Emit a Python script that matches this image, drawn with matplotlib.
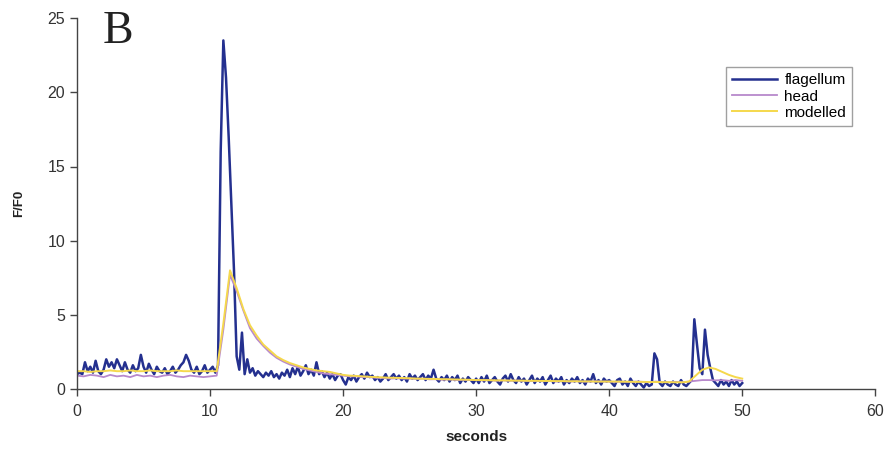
import numpy as np
import matplotlib.pyplot as plt

plt.rcParams['font.family'] = ['Liberation Sans', 'DejaVu Sans']

# flagellum trace, sampled every 0.2 s from 0 to 50 s
flag_t = np.arange(251) * 0.2
flagellum = [
    1.0, 1.1, 1.0, 1.8, 1.2, 1.5, 1.1, 1.9, 1.2, 1.0,
    1.3, 2.0, 1.5, 1.8, 1.4, 2.0, 1.6, 1.2, 1.8, 1.3,
    1.1, 1.6, 1.2, 1.4, 2.3, 1.5, 1.1, 1.7, 1.3, 1.0,
    1.5, 1.2, 1.1, 1.4, 1.0, 1.2, 1.5, 1.1, 1.3, 1.6,
    1.8, 2.3, 1.9, 1.3, 1.1, 1.5, 1.0, 1.2, 1.6, 1.1,
    1.3, 1.5, 1.1, 1.6, 16.0, 23.5, 21.0, 17.0, 12.5, 8.0,
    2.2, 1.3, 3.8, 1.0, 2.0, 1.1, 1.4, 0.9, 1.2, 1.0,
    0.8, 1.1, 0.9, 1.2, 0.8, 1.0, 0.7, 1.1, 0.9, 1.3,
    0.8, 1.4, 1.0, 1.5, 0.9, 1.2, 1.6, 1.0, 1.3, 0.9,
    1.8, 1.0, 1.2, 0.8, 1.1, 0.7, 1.0, 0.6, 0.9, 1.0,
    0.6, 0.3, 0.8, 0.6, 0.9, 0.5, 0.8, 1.0, 0.7, 1.1,
    0.8, 0.9, 0.6, 0.8, 0.5, 0.7, 1.0, 0.6, 0.8, 1.0,
    0.7, 0.9, 0.6, 0.8, 0.5, 1.0, 0.7, 0.9, 0.6, 0.8,
    1.0, 0.6, 0.9, 0.7, 1.3, 0.7, 0.5, 0.8, 0.6, 0.9,
    0.5, 0.8, 0.6, 0.9, 0.4, 0.7, 0.5, 0.8, 0.6, 0.4,
    0.7, 0.4, 0.8, 0.5, 0.9, 0.4, 0.6, 0.8, 0.5, 0.3,
    0.7, 0.9, 0.5, 1.0, 0.6, 0.4, 0.8, 0.5, 0.7, 0.3,
    0.6, 0.9, 0.4, 0.7, 0.5, 0.8, 0.3, 0.6, 0.9, 0.4,
    0.7, 0.5, 0.8, 0.3, 0.6, 0.4, 0.7, 0.5, 0.8, 0.4,
    0.6, 0.3, 0.7, 0.5, 1.0, 0.4, 0.6, 0.3, 0.7, 0.5,
    0.6, 0.4, 0.2, 0.6, 0.7, 0.3, 0.5, 0.2, 0.7, 0.4,
    0.2, 0.5, 0.3, 0.1, 0.4, 0.2, 0.3, 2.4, 2.0, 0.4,
    0.2, 0.5, 0.3, 0.2, 0.5, 0.3, 0.2, 0.6, 0.3, 0.2,
    0.4, 0.6, 4.7, 3.0, 1.4, 1.0, 4.0, 2.3, 1.4, 0.6,
    0.4, 0.2, 0.6, 0.3, 0.5, 0.2, 0.6, 0.3, 0.5, 0.2,
    0.4,
]

# head and modelled traces, every 0.5 s
slow_t = np.arange(101) * 0.5
head = [
    0.9, 0.85, 0.95, 0.9, 0.8, 0.95, 0.85, 0.9, 0.8, 0.95,
    0.85, 0.9, 0.8, 0.9, 0.95, 0.85, 0.8, 0.9, 0.85, 0.8,
    0.85, 0.9, 4.0, 7.7, 6.6, 5.3, 4.1, 3.4, 2.9, 2.45,
    2.1, 1.85, 1.65, 1.5, 1.35, 1.25, 1.15, 1.05, 1.0, 0.95,
    0.9, 0.85, 0.85, 0.8, 0.8, 0.75, 0.75, 0.7, 0.72, 0.7,
    0.7, 0.68, 0.7, 0.65, 0.66, 0.62, 0.65, 0.6, 0.62, 0.6,
    0.6, 0.58, 0.6, 0.55, 0.58, 0.55, 0.57, 0.55, 0.53, 0.55,
    0.52, 0.55, 0.5, 0.53, 0.5, 0.52, 0.5, 0.5, 0.52, 0.5,
    0.5, 0.48, 0.5, 0.47, 0.5, 0.48, 0.45, 0.5, 0.47, 0.45,
    0.48, 0.45, 0.5, 0.55, 0.6, 0.6, 0.58, 0.6, 0.55, 0.6,
    0.55,
]
modelled = [
    1.2, 1.2, 1.15, 1.2, 1.2, 1.25, 1.2, 1.2, 1.25, 1.2,
    1.2, 1.25, 1.2, 1.2, 1.2, 1.25, 1.2, 1.2, 1.2, 1.2,
    1.2, 1.2, 4.4, 8.0, 6.8, 5.4, 4.3, 3.6, 3.0, 2.6,
    2.2, 1.95, 1.75, 1.6, 1.45, 1.35, 1.25, 1.2, 1.15, 1.05,
    0.95, 0.9, 0.88, 0.85, 0.82, 0.8, 0.78, 0.76, 0.75, 0.74,
    0.72, 0.7, 0.69, 0.68, 0.67, 0.66, 0.65, 0.64, 0.63, 0.62,
    0.6, 0.6, 0.59, 0.58, 0.58, 0.57, 0.56, 0.56, 0.55, 0.55,
    0.54, 0.54, 0.53, 0.53, 0.52, 0.52, 0.51, 0.51, 0.5, 0.5,
    0.5, 0.5, 0.49, 0.49, 0.48, 0.48, 0.47, 0.47, 0.46, 0.46,
    0.45, 0.45, 0.5, 0.9, 1.3, 1.45, 1.35, 1.15, 0.95, 0.8,
    0.7,
]

fig = plt.figure(figsize=(8.85, 4.5), dpi=100)
ax = fig.add_axes([0.087, 0.1356, 0.902, 0.824])

ax.plot(flag_t, flagellum, color='#24308f', lw=1.8, label='flagellum')
ax.plot(slow_t, head, color='#b889cc', lw=1.3, label='head')
ax.plot(slow_t, modelled, color='#f5d84c', lw=1.4, label='modelled')

ax.set_xlim(0, 60)
ax.set_ylim(0, 25)
ax.set_xticks(range(0, 61, 10))
ax.set_yticks(range(0, 26, 5))
for s in ['top', 'right']:
    ax.spines[s].set_visible(False)
for s in ['left', 'bottom']:
    ax.spines[s].set_color('#444444')
    ax.spines[s].set_linewidth(1.0)
ax.tick_params(colors='#444444', labelcolor='#333333', labelsize=11.5,
               length=5, width=1.0, direction='out')
ax.tick_params(axis='x', pad=6)

ax.set_xlabel('seconds', fontsize=11, fontweight='bold', color='#222222', labelpad=8)
ax.set_ylabel('F/F0', fontsize=9.5, fontweight='bold', color='#222222', labelpad=16)

leg = ax.legend(loc='upper right', bbox_to_anchor=(0.971, 0.868), borderaxespad=0,
                fontsize=11, frameon=True, fancybox=False, handlelength=2.9,
                labelspacing=0.15, borderpad=0.4, handletextpad=0.5)
leg.get_frame().set_edgecolor('#888888')
leg.get_frame().set_linewidth(1.0)

fig.text(0.116, 0.904, 'B', fontsize=33, family='Liberation Serif',
         color='#222222', ha='left', va='baseline')

fig.savefig('out.png', dpi=100)
